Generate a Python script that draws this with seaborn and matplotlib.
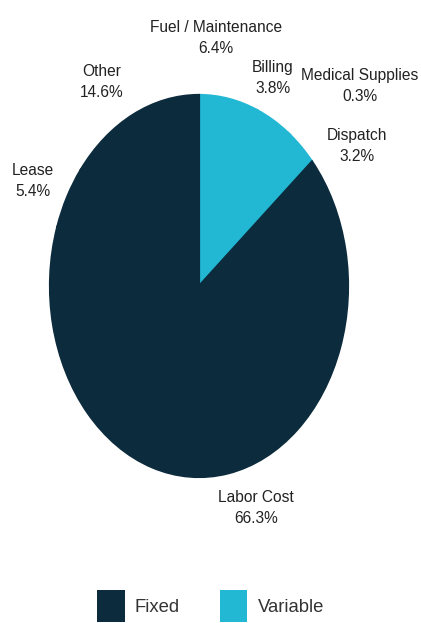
import matplotlib
matplotlib.use("Agg")
import matplotlib.pyplot as plt
from matplotlib.patches import Patch
import seaborn as sns

# ---------------- data ----------------
categories = ["Fuel / Maintenance", "Billing", "Medical Supplies", "Dispatch",
              "Labor Cost", "Lease", "Other"]
shares = [6.4, 3.8, 0.3, 3.2, 66.3, 5.4, 14.6]
groups = ["Variable", "Variable", "Variable", "Variable", "Fixed", "Fixed", "Fixed"]
legend_labels = ["Fixed", "Variable"]

# ---------------- style ----------------
sns.set_theme(style="white")
plt.rcParams["font.family"] = ["Liberation Sans", "DejaVu Sans"]
group_colors = dict(zip(legend_labels, ["#0C2B3D", "#22B8D4"]))
colors = [group_colors[g] for g in groups]

W, H = 421, 623
fig = plt.figure(figsize=(W / 100, H / 100), dpi=100)
fig.patch.set_facecolor("white")

# pie area in pixels (left, top, right, bottom) -> elliptical pie
pl, pt, pr, pb = 50, 95, 348, 477
ax = fig.add_axes([pl / W, 1 - pb / H, (pr - pl) / W, (pb - pt) / H])
cx, cy = (pl + pr) / 2, (pt + pb) / 2
rx, ry = (pr - pl) / 2, (pb - pt) / 2

wedges, _ = ax.pie(shares, colors=colors, startangle=90, counterclock=False,
                   radius=1, wedgeprops=dict(linewidth=1.6))
for w, c in zip(wedges, colors):
    w.set_edgecolor(c)
ax.set_aspect("auto")
ax.set_xlim(-1, 1)
ax.set_ylim(-1, 1)
ax.axis("off")

# label placement (pixel centres of each two-line label)
label_px = {
    "Fuel / Maintenance": (216, 38),
    "Billing": (273, 78),
    "Medical Supplies": (360, 86),
    "Dispatch": (357, 146),
    "Labor Cost": (256, 508),
    "Lease": (33, 181),
    "Other": (102, 82),
}
for cat, val in zip(categories, shares):
    px, py = label_px[cat]
    ax.text((px - cx) / rx, (cy - py) / ry, f"{cat}\n{val:.1f}%",
            ha="center", va="center", multialignment="center",
            fontsize=11.2, color="#222222", linespacing=1.45, clip_on=False)

handles = [Patch(facecolor=group_colors[g], edgecolor="none") for g in legend_labels]
fs = 13.3
fig.legend(handles, legend_labels, loc="upper left",
           bbox_to_anchor=(97 / W, 1 - 590 / H), ncol=2, frameon=False,
           fontsize=fs, handlelength=1.5, handleheight=2.25,
           handletextpad=0.55, columnspacing=2.15, borderpad=0,
           borderaxespad=0, labelcolor="#333333")

fig.savefig("out.png", dpi=100, facecolor="white")
